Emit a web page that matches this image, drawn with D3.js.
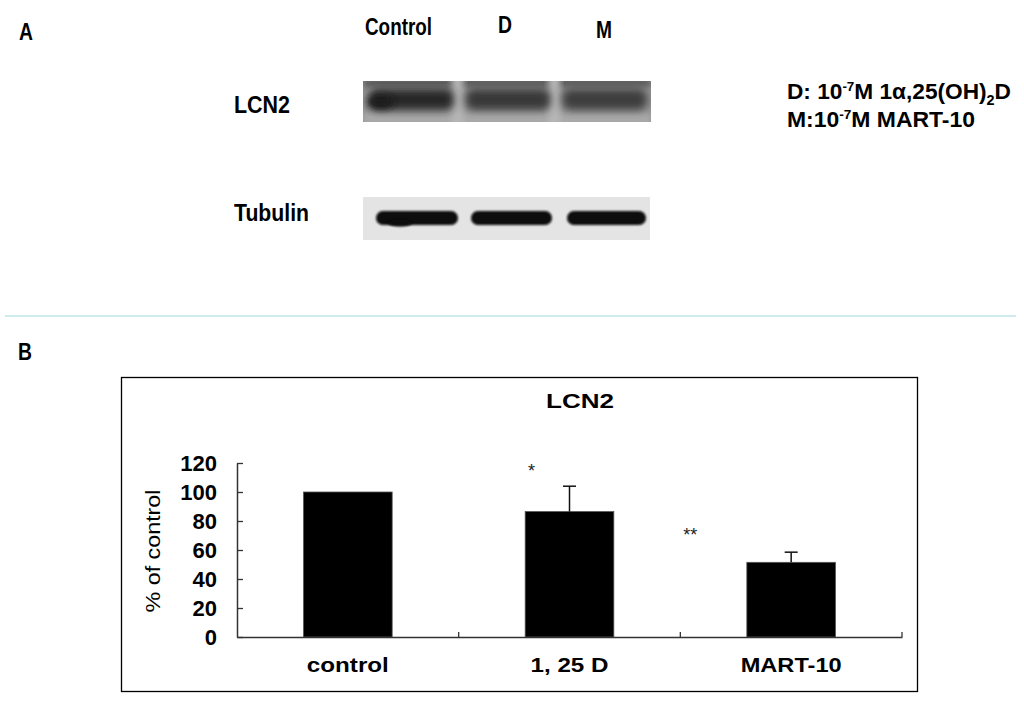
<!DOCTYPE html>
<html><head><meta charset="utf-8">
<script src="https://cdn.jsdelivr.net/npm/d3@7/dist/d3.min.js"></script>
<style>body{margin:0;background:#fff}svg{display:block}</style>
</head><body>
<script>
// ---------- data ----------
const lanes = ["Control", "D", "M"];
const lcn2Intensity = [0.97, 0.82, 0.78];      // relative band darkness (blot)
const tubulinIntensity = [1.0, 1.0, 1.0];
const categories = ["control", "1, 25 D", "MART-10"];
const values = [100, 86.5, 51.5];
const errors = [0, 17.5, 7];
const stars = ["", "*", "**"];
const starLevels = [0, 117, 73];
const yTicks = [0, 20, 40, 60, 80, 100, 120];

const W = 1024, H = 707;
const svg = d3.select("body").append("svg").attr("width", W).attr("height", H);
const defs = svg.append("defs");
function blur(id, s) {
  defs.append("filter").attr("id", id).attr("x", "-30%").attr("y", "-80%").attr("width", "160%").attr("height", "260%")
    .append("feGaussianBlur").attr("stdDeviation", s);
}
blur("blur4", 4); blur("blur3", 3); blur("blur1", 1.3);
defs.append("clipPath").attr("id", "clipL").append("rect").attr("x", 363).attr("y", 81).attr("width", 288).attr("height", 41);
defs.append("clipPath").attr("id", "clipT").append("rect").attr("x", 363).attr("y", 197).attr("width", 287).attr("height", 43);

const sans = "'Liberation Sans',Arial,sans-serif";
function label(sel, x, y, txt, size, len, anchor) {
  const t = sel.append("text").attr("x", x).attr("y", y).attr("font-family", sans).attr("font-weight", "bold")
    .attr("font-size", size).attr("text-anchor", anchor || "start").text(txt);
  if (len) t.attr("textLength", len).attr("lengthAdjust", "spacingAndGlyphs");
  return t;
}

// ---------- Panel A ----------
label(svg, 19, 40, "A", 23, 14);

const laneX = d3.scaleBand().domain(lanes).range([363, 651]).paddingInner(0.06).paddingOuter(0.02);
const laneLabel = [{ x: 365, y: 35, w: 67 }, { x: 498, y: 33, w: 14 }, { x: 596, y: 38, w: 16 }];
lanes.forEach((d, i) => label(svg, laneLabel[i].x, laneLabel[i].y, d, 24, laneLabel[i].w));

label(svg, 234, 113, "LCN2", 24, 56);
label(svg, 234, 221, "Tubulin", 24, 75);

// LCN2 blot
const gL = svg.append("g").attr("clip-path", "url(#clipL)");
gL.append("rect").attr("x", 363).attr("y", 81).attr("width", 288).attr("height", 41).attr("fill", "#969696");
gL.append("rect").attr("x", 363).attr("y", 78).attr("width", 288).attr("height", 9).attr("fill", "#5a5a5a").attr("filter", "url(#blur3)");
gL.append("rect").attr("x", 363).attr("y", 113).attr("width", 288).attr("height", 12).attr("fill", "#aaaaaa").attr("filter", "url(#blur3)");
gL.selectAll("rect.gap").data(lanes.slice(1)).join("rect").attr("class", "gap")
  .attr("x", d => laneX(d) - 10).attr("y", 76).attr("width", 12).attr("height", 52)
  .attr("fill", "#b6b6b6").attr("filter", "url(#blur3)");
gL.selectAll("rect.band").data(lanes).join("rect").attr("class", "band")
  .attr("x", d => laneX(d) + 4).attr("y", 89).attr("width", laneX.bandwidth() - 6).attr("height", 21)
  .attr("rx", 8).attr("fill", (d, i) => d3.interpolateRgb("#969696", "#242424")(lcn2Intensity[i]))
  .attr("filter", "url(#blur4)");
gL.append("ellipse").attr("cx", laneX("Control") + 16).attr("cy", 102).attr("rx", 13).attr("ry", 7)
  .attr("fill", "#1c1c1c").attr("filter", "url(#blur3)");

// Tubulin blot
const gT = svg.append("g").attr("clip-path", "url(#clipT)");
gT.append("rect").attr("x", 363).attr("y", 197).attr("width", 287).attr("height", 43).attr("fill", "#e4e4e4");
const tubX = [[376, 458], [471, 552], [567, 646]];
gT.selectAll("rect.band").data(lanes).join("rect").attr("class", "band")
  .attr("x", (d, i) => tubX[i][0]).attr("y", 211)
  .attr("width", (d, i) => tubX[i][1] - tubX[i][0]).attr("height", 14).attr("rx", 7)
  .attr("fill", (d, i) => d3.interpolateRgb("#e4e4e4", "#080808")(tubulinIntensity[i]))
  .attr("filter", "url(#blur1)");
gT.append("ellipse").attr("cx", 400).attr("cy", 223).attr("rx", 12).attr("ry", 3.5)
  .attr("fill", "#080808").attr("filter", "url(#blur1)");

// legend
const leg = svg.append("g").attr("font-family", sans).attr("font-weight", "bold").attr("font-size", 22).attr("fill", "#000");
const t1 = leg.append("text").attr("x", 787).attr("y", 99).attr("textLength", 224).attr("lengthAdjust", "spacingAndGlyphs");
t1.append("tspan").text("D: 10");
t1.append("tspan").attr("font-size", 13).attr("dy", -8).text("-7");
t1.append("tspan").attr("dy", 8).text("M 1α,25(OH)");
t1.append("tspan").attr("font-size", 14).attr("dy", 6).text("2");
t1.append("tspan").attr("dy", -6).text("D");
const t2 = leg.append("text").attr("x", 787).attr("y", 127).attr("textLength", 188).attr("lengthAdjust", "spacingAndGlyphs");
t2.append("tspan").text("M:10");
t2.append("tspan").attr("font-size", 13).attr("dy", -8).text("-7");
t2.append("tspan").attr("dy", 8).text("M MART-10");

// separator
svg.append("line").attr("x1", 5).attr("x2", 1016).attr("y1", 316).attr("y2", 316)
  .attr("stroke", "#bfe4e6").attr("stroke-width", 1.5);

// ---------- Panel B ----------
label(svg, 18, 360, "B", 23, 14);

svg.append("rect").attr("x", 121.5).attr("y", 377.5).attr("width", 796).attr("height", 314)
  .attr("fill", "none").attr("stroke", "#000").attr("stroke-width", 1.3);

const x0 = 237, x1 = 902, y0 = 637, y1 = 463;
const x = d3.scaleBand().domain(categories).range([x0, x1]).paddingInner(0.6).paddingOuter(0.3);
const y = d3.scaleLinear().domain([0, 120]).range([y0, y1]);

label(svg, 580, 408, "LCN2", 20, 68, "middle");

// bars
svg.selectAll("rect.bar").data(values).join("rect").attr("class", "bar")
  .attr("x", (d, i) => x(categories[i])).attr("width", x.bandwidth())
  .attr("y", d => y(d)).attr("height", d => y(0) - y(d))
  .attr("fill", "#000").attr("stroke", "#555").attr("stroke-width", 0.8);

// error bars
const eb = svg.append("g").attr("stroke", "#111").attr("stroke-width", 1.5);
values.forEach((v, i) => {
  if (!errors[i]) return;
  const cx = x(categories[i]) + x.bandwidth() / 2;
  eb.append("line").attr("x1", cx).attr("x2", cx).attr("y1", y(v)).attr("y2", y(v + errors[i]));
  eb.append("line").attr("x1", cx - 6.5).attr("x2", cx + 6.5).attr("y1", y(v + errors[i])).attr("y2", y(v + errors[i]));
});

// stars
const starDx = [0, -38, -101];
stars.forEach((s, i) => {
  if (!s) return;
  svg.append("text").attr("x", x(categories[i]) + x.bandwidth() / 2 + starDx[i])
    .attr("y", y(starLevels[i]) + 10).attr("text-anchor", "middle")
    .attr("font-family", sans).attr("font-size", 18).attr("fill", "#222").text(s);
});

// y axis (ticks inward)
const yAxis = svg.append("g").attr("transform", `translate(${x0},0)`)
  .call(d3.axisLeft(y).tickValues(yTicks).tickSizeInner(-6).tickSizeOuter(0).tickPadding(20));
yAxis.select(".domain").attr("stroke", "#333").attr("stroke-width", 1.5);
yAxis.selectAll(".tick line").attr("stroke", "#333").attr("stroke-width", 1.3);
yAxis.selectAll(".tick text").attr("font-family", sans).attr("font-weight", "bold").attr("font-size", 22).attr("fill", "#000");

// x axis
const xAxis = svg.append("g").attr("transform", `translate(0,${y0})`)
  .call(d3.axisBottom(x).tickSize(0).tickSizeOuter(0).tickPadding(20));
xAxis.select(".domain").attr("stroke", "#333").attr("stroke-width", 1.5);
const xLen = [82, 78, 101];
xAxis.selectAll(".tick text").attr("font-family", sans).attr("font-weight", "bold").attr("font-size", 21).attr("fill", "#000")
  .attr("textLength", (d, i) => xLen[i]).attr("lengthAdjust", "spacingAndGlyphs");
const bounds = [1, 2, 3].map(k => x0 + (x1 - x0) * k / 3);
svg.selectAll("line.bt").data(bounds).join("line").attr("class", "bt")
  .attr("x1", d => d).attr("x2", d => d).attr("y1", y0).attr("y2", y0 - 5)
  .attr("stroke", "#333").attr("stroke-width", 1.3);

// y label
svg.append("text").attr("transform", `translate(160,551) rotate(-90)`).attr("text-anchor", "middle")
  .attr("font-family", sans).attr("font-size", 21).attr("textLength", 123).attr("lengthAdjust", "spacingAndGlyphs")
  .text("% of control");
</script>
</body></html>
